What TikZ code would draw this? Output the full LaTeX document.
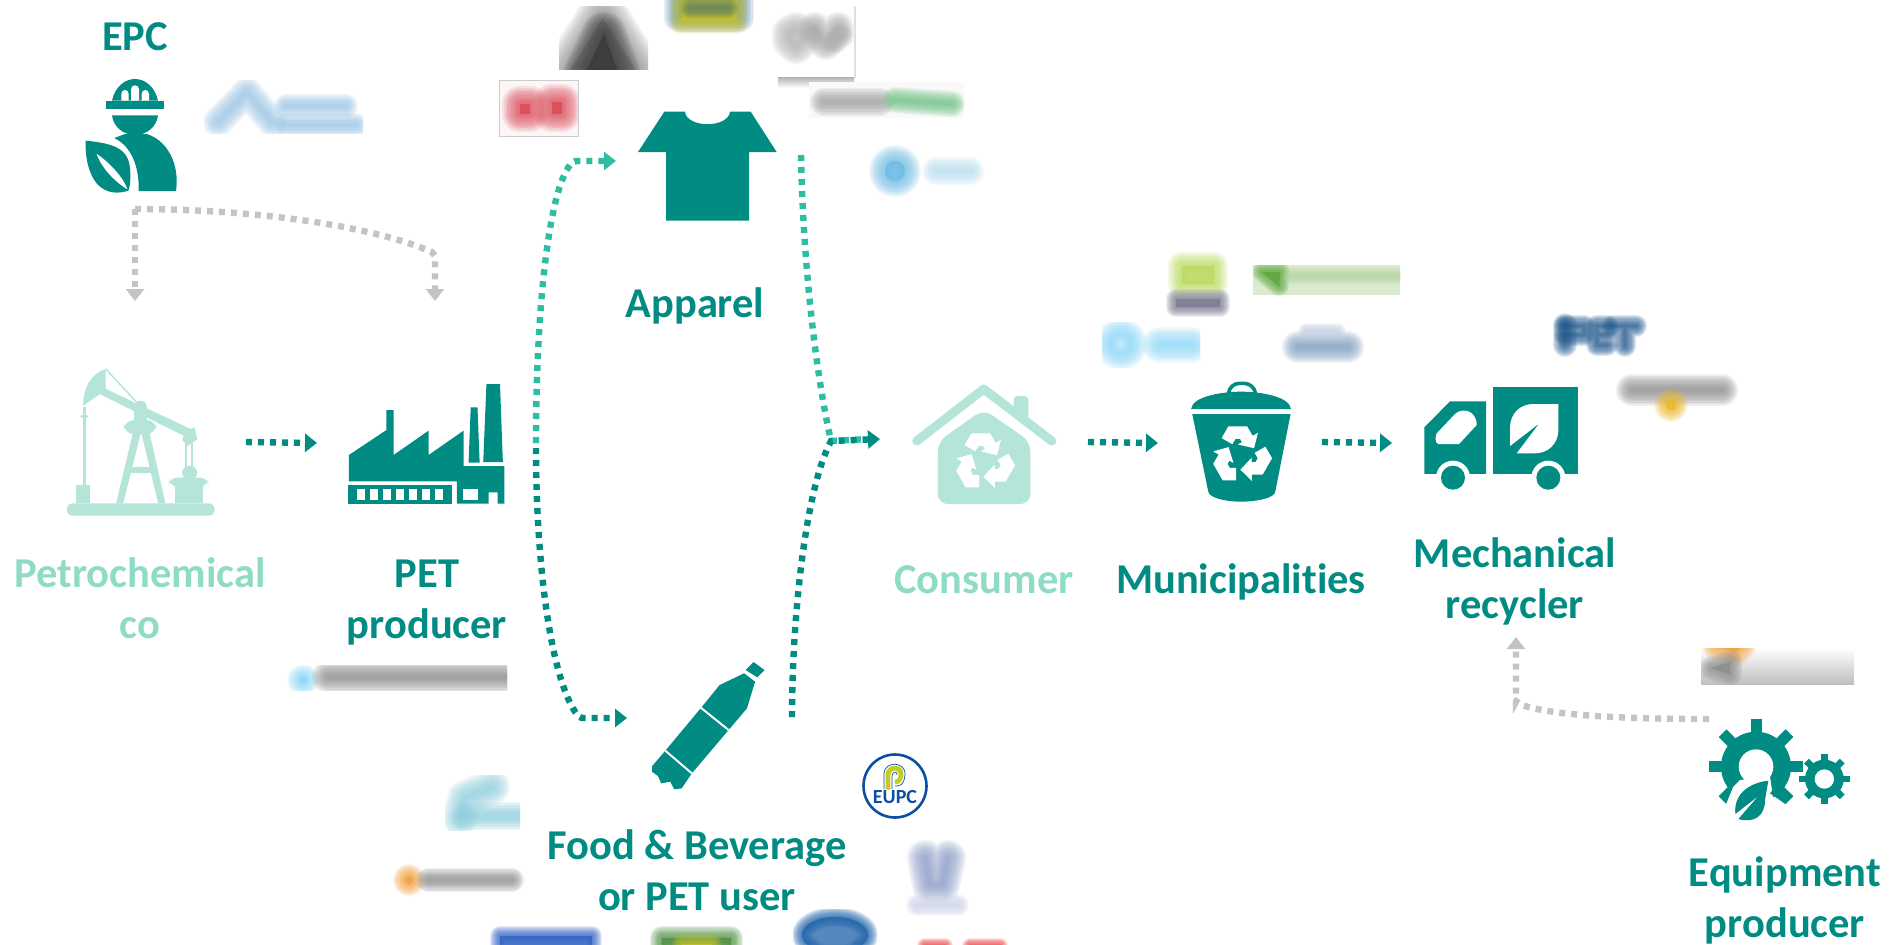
\documentclass[tikz,border=0pt]{standalone}
\usepackage{fontspec}
\setmainfont{Carlito}[Ligatures=NoCommon]
\usetikzlibrary{arrows.meta}
\definecolor{tealD}{HTML}{008C82}
\definecolor{tealM}{HTML}{2DBDA0}
\definecolor{mintI}{HTML}{B5E4D9}
\definecolor{mintT}{HTML}{90DBC6}
\definecolor{grayL}{HTML}{C4C4C4}
\definecolor{lgProman}{HTML}{9CC6E6}
\definecolor{lgRed}{HTML}{DC4A55}
\definecolor{lgDark}{HTML}{3A3A3A}
\definecolor{lgMid}{HTML}{8A8A8A}
\definecolor{lgGrey}{HTML}{8E8E8E}
\definecolor{lgSteel}{HTML}{5F8FB8}
\definecolor{lgYel}{HTML}{C6C42C}
\definecolor{lgOlive}{HTML}{5F8060}
\definecolor{lgGreen}{HTML}{6FC184}
\definecolor{lgSky}{HTML}{6FBEE6}
\definecolor{lgSkyP}{HTML}{B5DFF0}
\definecolor{lgCyan}{HTML}{8FD0DE}
\definecolor{lgOrange}{HTML}{F4A23C}
\definecolor{lgEupc}{HTML}{0B4EA2}
\definecolor{lgEupcY}{HTML}{C4CC22}
\definecolor{lgUni}{HTML}{8D9CC8}
\definecolor{lgUniP}{HTML}{CDD3E8}
\definecolor{lgAlpla}{HTML}{2F62C4}
\definecolor{lgLeaf}{HTML}{4F8F40}
\definecolor{lgOval}{HTML}{1F64AC}
\definecolor{lgOvalC}{HTML}{5C8FC0}
\definecolor{lgRedB}{HTML}{EC4040}
\definecolor{lgLime}{HTML}{BCDC60}
\definecolor{lgSlate}{HTML}{7A7A92}
\definecolor{lgRecBg}{HTML}{DCEBD0}
\definecolor{lgRecD}{HTML}{5CA83C}
\definecolor{lgRecM}{HTML}{B6D6A4}
\definecolor{lgAqua}{HTML}{8FDAFA}
\definecolor{lgBlueG}{HTML}{7F9CC2}
\definecolor{lgNavy}{HTML}{1F568E}
\definecolor{lgGold}{HTML}{EDB92C}
\tikzset{
  lab/.style={font=\fontsize{21.25}{25.5}\selectfont\bfseries,align=center,text=tealD,inner sep=0pt},
  labL/.style={lab,text=mintT},
  dotline/.style={line width=3.2pt,dash pattern=on 3pt off 3pt,-{Triangle[length=6pt,width=9pt]}},
  dotbare/.style={line width=3.2pt,dash pattern=on 3pt off 3pt},
  zA/.style={x=0.16667pt,y=-0.16667pt},
  zB/.style={x=0.17857pt,y=-0.16667pt},
  zC/.style={x=0.20408pt,y=-0.16667pt},
  zD/.style={x=0.19133pt,y=-0.16667pt},
}
\newcommand{\softfill}[3]{\foreach \k in {10,...,1}{\pgfmathsetmacro{\wd}{#2*\k/10}\filldraw[#1,opacity=.13,line width=\wd pt,line join=round,line cap=round] #3;}}
\newcommand{\softline}[3]{\foreach \k in {10,...,1}{\pgfmathsetmacro{\wd}{#2*\k/10}\draw[#1,opacity=.14,line width=\wd pt,line join=round,line cap=round] #3;}}
\newcommand{\recycleicon}[2]{\foreach \r in {0,120,240}{\begin{scope}[shift={(#1,#2)},x=15.5pt,y=15.5pt,rotate=\r]
\fill[white] (-.626,.547)--(-.41,.92)--(.2,.92)--(.375,.617)--(.548,.717)--(.42,.22)--(-.10,.34)--(.029,.417)--(-.031,.52)--(-.18,.52)--(-.28,.347)--cycle;
\end{scope}}}
\newcommand{\gearicon}[6]{%
\foreach \a in {0,45,...,315}{\fill[tealD,rotate around={\a:(#1,#2)}] (#1-#6/2,#2) rectangle (#1+#6/2,#2-#3);}
\fill[tealD] (#1,#2) circle[radius=#4];
\fill[white] (#1,#2) circle[radius=#5];}
\begin{document}
\begin{tikzpicture}[x=0.5pt,y=-0.5pt]
\useasboundingbox (0,0) rectangle (1896,944);
\fill[white] (0,0) rectangle (1896,944);

% ---------- blurred logos ----------
\begin{scope}
\clip (204,80) rectangle (363,133);
\softline{lgProman}{15}{(218,122)--(247,92)--(272,122)}
\softline{lgProman}{12}{(286,106)--(346,106)}
\softline{lgProman}{12}{(286,125)--(356,125)}
\end{scope}
\begin{scope}
\clip (499,80) rectangle (578,136);
\fill[lgRed!5!white] (499,80) rectangle (578,136);
\softfill{lgRed}{18}{(520,104)--(530,104)--(530,114)--(520,114)--cycle}
\softfill{lgRed}{18}{(552,102)--(562,102)--(562,114)--(552,114)--cycle}
\end{scope}
\draw[gray!40,line width=.4pt] (499,80) rectangle (578,136);
\begin{scope}
\clip (559,6) rectangle (648,69);
\softfill{lgMid}{26}{(603,18)--(635,69)--(571,69)--cycle}
\softfill{lgDark}{22}{(604,34)--(618,72)--(586,72)--cycle}
\end{scope}
\begin{scope}
\clip (655,0) rectangle (765,40);
\softfill{lgSteel}{14}{(678,0)--(740,0)--(740,18)--(678,18)--cycle}
\softfill{lgYel}{12}{(682,2)--(736,2)--(736,22)--(682,22)--cycle}
\softline{lgOlive}{10}{(690,8)--(728,8)}
\end{scope}
\begin{scope}
\clip (770,6) rectangle (860,90);
\shade[top color=gray!60,bottom color=white] (778,77) rectangle (854,88);
\fill[white] (776,6) rectangle (854,77);
\fill[gray!25] (854,6) rectangle (856,78);
\softline{lgGrey!70}{18}{(790,33)--(796,30)--(804,38)--(796,46)--(790,40)--cycle}
\softline{lgGrey!80}{16}{(815,28)--(826,44)--(838,28)}
\softline{lgGrey!70}{12}{(835,42)--(842,36)}
\end{scope}
\fill[gray!5] (809,82) rectangle (964,118);
\softline{lgGrey!85}{14}{(824,102)--(880,102)}
\softline{lgGreen}{13}{(895,100)--(952,104)}
\softfill{lgSky}{16}{(895,171) circle[radius=10]}
\softline{lgSkyP}{14}{(936,171)--(970,171)}
\begin{scope}
\clip (286,665) rectangle (507,690);
\softfill{lgAqua}{12}{(303,680) circle[radius=4]}
\softline{lgGrey}{16}{(328,677)--(510,677)}
\end{scope}
\begin{scope}
\clip (445,775) rectangle (520,830);
\softline{lgCyan}{18}{(492,787)--(465,798)--(460,818)}
\softline{lgCyan}{14}{(465,816)--(520,816)}
\end{scope}
\softfill{lgOrange}{12}{(409,880) circle[radius=4]}
\softline{lgGrey}{12}{(428,880)--(512,880)}
% EUPC
\node[circle,draw=lgEupc,line width=1.3pt,minimum size=31.5pt,inner sep=0pt] (eupcring) at (895,786) {};
\draw[line width=2.4pt,lgEupcY] (888,789) -- (888,775) .. controls (888,766) and (901,766) .. (901,774) .. controls (901,781) and (897,782) .. (895,782);
\draw[line width=.35pt,lgEupc] (884,789)--(884,773) .. controls (885,761) and (906,761) .. (905,775) .. controls (904,787) and (897,786) .. (895,786);
\draw[line width=.35pt,lgEupc] (892,789)--(892,776) .. controls (892,771) and (898,771) .. (897,775);
\fill[lgGold] (888,788) circle[radius=2];
\node[font=\fontsize{10}{10}\selectfont\bfseries,text=lgEupc,inner sep=0pt] (eupc) at (895,797) {EUPC};
% Unilever
\softline{lgUni}{18}{(925,858)--(930,885)--(942,885)--(948,858)}
\softline{lgUniP}{11}{(917,905)--(958,905)}
% bottom row
\begin{scope}
\clip (490,921) rectangle (602,944);
\softfill{lgAlpla}{10}{(500,936)--(592,936)--(592,950)--(500,950)--cycle}
\end{scope}
\begin{scope}
\clip (645,923) rectangle (748,944);
\softfill{lgLeaf}{12}{(662,938)--(731,938)--(731,950)--(662,950)--cycle}
\softfill{lgYel}{10}{(682,944)--(712,944)--(712,950)--(682,950)--cycle}
\end{scope}
\begin{scope}
\clip (793,909) rectangle (877,944);
\softfill{lgOval}{10}{(835,935) ellipse[x radius=33,y radius=18]}
\softfill{lgOvalC}{8}{(835,938) ellipse[x radius=12,y radius=4]}
\end{scope}
\begin{scope}
\clip (908,936) rectangle (1012,944);
\softline{lgRedB}{8}{(925,946)--(945,946)}
\softline{lgRedB}{8}{(970,946)--(1000,946)}
\end{scope}
% municipalities logos
\softfill{lgLime}{14}{(1182,266)--(1214,266)--(1214,284)--(1182,284)--cycle}
\softfill{lgSlate}{10}{(1176,299)--(1220,299)--(1220,307)--(1176,307)--cycle}
\fill[lgRecBg] (1253,265) rectangle (1400,295);
\begin{scope}
\clip (1253,265) rectangle (1400,295);
\softfill{lgRecD}{10}{(1262,272)--(1280,272)--(1279,286)--cycle}
\softline{lgRecM}{9}{(1292,276)--(1400,276)}
\end{scope}
\begin{scope}
\clip (1102,322) rectangle (1200,367);
\softline{lgAqua}{16}{(1121,344) circle[radius=10]}
\softline{lgAqua}{18}{(1160,345)--(1192,345)}
\end{scope}
\softline{lgBlueG}{16}{(1298,347)--(1348,347)}
\softline{lgBlueG!45}{8}{(1306,331)--(1338,331)}
% PET logo + Deatis + orange
\softline{lgNavy}{12}{(1565,325)--(1565,345)}
\softline{lgNavy}{11}{(1565,326)--(1584,326)--(1584,335)--(1565,335)}
\softline{lgNavy}{11}{(1597,326)--(1597,345)--(1607,345) (1597,326)--(1607,326) (1597,335)--(1607,335)}
\softline{lgNavy}{11}{(1613,326)--(1636,326) (1625,326)--(1625,346)}
\softline{lgGrey}{16}{(1632,390)--(1722,390)}
\softfill{lgGold}{12}{(1671,405) circle[radius=5]}
\shade[top color=white,middle color=orange!55!white,bottom color=gray!50] (1701,648) rectangle (1854,684);
\begin{scope}
\clip (1701,648) rectangle (1854,684);
\softfill{lgOrange}{14}{(1716,646)--(1742,646)--(1736,652)--cycle}
\softfill{lgGrey}{12}{(1712,668)--(1730,662)--(1730,674)--cycle}
\end{scope}

% ---------- icons ----------
% worker
\begin{scope}[zA]
\fill[tealD] (318,302) rectangle (492,326);
\fill[tealD] (336,302) .. controls (345,260) and (375,237) .. (405,237) .. controls (435,237) and (465,260) .. (474,302) -- cycle;
\fill[white] (364,302) -- (364,282) .. controls (364,266) and (386,266) .. (386,282) -- (386,302) -- cycle;
\fill[white] (393,302) -- (393,268) .. controls (393,252) and (417,252) .. (417,268) -- (417,302) -- cycle;
\fill[white] (425,302) -- (425,282) .. controls (425,266) and (447,266) .. (447,282) -- (447,302) -- cycle;
\fill[tealD] (336,346) -- (474,346) .. controls (470,380) and (440,405) .. (405,405) .. controls (370,405) and (340,380) .. (336,346) -- cycle;
\fill[tealD] (343,414) -- (375,402) -- (440,402) .. controls (500,420) and (540,490) .. (528,573) -- (416,573) .. controls (418,500) and (395,440) .. (343,414) -- cycle;
\fill[tealD] (257,422) .. controls (340,430) and (385,445) .. (390,505) .. controls (393,535) and (390,560) .. (385,572) .. controls (360,580) and (320,585) .. (290,550) .. controls (265,520) and (255,470) .. (257,422) -- cycle;
\fill[white] (290,462) .. controls (320,480) and (370,530) .. (382,568) .. controls (345,545) and (305,505) .. (290,462) -- cycle;
\end{scope}
% pump jack
\begin{scope}[shift={(0,340)},zB,mintI]
\fill[rounded corners=3pt] (187,490) rectangle (601,527);
\fill (214,436) rectangle (252,490);
\fill (232,200) rectangle (240,436);
\fill[rounded corners=1pt] (225,225) rectangle (247,233);
\fill (296,87) .. controls (255,100) and (232,145) .. (233,197) -- (280,162) -- (296,145) -- cycle;
\fill (280,150) -- (294,145) -- (385,192) -- (530,265) -- (520,290) -- (410,232) -- (280,162) -- cycle;
\draw[line width=.7pt] (296,87) -- (384,188);
\fill (393,200) circle[radius=18];
\fill (376,205) rectangle (412,250);
\fill[rounded corners=5pt] (347,240) rectangle (438,282);
\fill (373,275) -- (395,275) -- (345,490) -- (325,490) -- cycle;
\fill (395,275) -- (418,275) -- (463,490) -- (443,490) -- cycle;
\fill (365,382) rectangle (425,398);
\fill (520,270) -- (545,262) -- (552,298) -- (525,318) -- (510,300) -- cycle;
\fill (518,310) rectangle (523,380);
\fill (534,310) rectangle (539,380);
\fill (531,398) circle[radius=21];
\fill[rounded corners=4pt] (473,413) rectangle (583,439);
\fill (490,430) rectangle (567,490);
\end{scope}
% factory
\begin{scope}[shift={(0,340)},zB,tealD]
\fill (977,345) -- (1082,270) -- (1082,210) -- (1102,210) -- (1102,345) -- (1200,272) -- (1200,345) -- (1298,272) -- (1298,378) -- (1412,378) -- (1412,491) -- (1393,491) -- (1393,457) -- (1368,457) -- (1368,491) -- (1279,491) -- (1279,424) -- (977,424) -- cycle;
\fill (975,434) rectangle (1265,491);
\fill[white] (1296,447) rectangle (1338,480);
\foreach \a in {1000,1036,1072,1108,1145,1181,1218}{\fill[white] (\a,447) rectangle (\a+22,480);}
\fill (1318,202) -- (1337,202) -- (1343,368) -- (1312,368) -- cycle;
\fill (1362,132) -- (1400,132) -- (1408,366) -- (1353,366) -- cycle;
\end{scope}
% t-shirt
\begin{scope}[shift={(480,0)},zA]
\fill[tealD] (553,335) -- (615,335) .. controls (620,385) and (745,385) .. (750,335) -- (812,335) -- (890,456) -- (807,456) -- (807,662) -- (558,662) -- (558,456) -- (474,456) -- cycle;
\end{scope}
% bottle
\begin{scope}[shift={(400,640)},zC]
\fill[tealD,line join=round] (866,66) -- (893,90) -- (875,112) -- (847,90) -- cycle;
\fill[tealD] (843,100) -- (783,135) -- (740,200) -- (650,332) -- (618,378) -- (617,395) -- (632,408) -- (640,430) -- (662,425) -- (672,448) -- (690,445) -- (715,400) -- (805,270) -- (850,205) -- (870,125) -- cycle;
\draw[white,line width=1pt] (737,203) -- (805,270);
\draw[white,line width=1pt] (650,332) -- (715,400);
\draw[white,line width=.7pt] (847,97) -- (872,120);
\end{scope}
% house
\begin{scope}[shift={(800,240)},zD,mintI]
\fill[rounded corners=2pt] (558,505) -- (558,468) -- (597,468) -- (597,545) -- cycle;
\draw[line width=4.5pt,line cap=round,line join=round] (305,603) -- (480,447) -- (658,603);
\fill[rounded corners=5pt] (360,605) -- (480,508) -- (602,605) -- (602,792) -- (360,792) -- cycle;
\end{scope}
\recycleicon{984}{462}
% trash
\begin{scope}[shift={(800,240)},zD,tealD]
\draw[line width=1.8pt,rounded corners=5pt] (1120,458) -- (1122,430) -- (1187,430) -- (1190,458);
\fill (1022,507) .. controls (1025,470) and (1100,455) .. (1153,455) .. controls (1205,455) and (1280,470) .. (1283,507) -- cycle;
\fill (1025,522) -- (1282,522) -- (1242,755) .. controls (1240,775) and (1190,785) .. (1153,785) .. controls (1115,785) and (1070,775) .. (1067,755) -- cycle;
\end{scope}
\recycleicon{1241}{455}
% truck
\begin{scope}[shift={(1380,300)},zA,tealD]
\fill (133,382) -- (210,304) -- (318,304) -- (318,522) -- (133,522) -- cycle;
\fill (338,261) rectangle (594,522);
\fill[white] (170,400) -- (225,342) .. controls (245,322) and (290,330) .. (290,375) -- (237,432) -- (175,432) .. controls (165,430) and (165,410) .. (170,400) -- cycle;
\fill[white] (219,533) circle[radius=51];
\fill[white] (505,533) circle[radius=51];
\fill[white] (130,522) rectangle (330,580);
\fill[white] (440,522) rectangle (600,580);
\fill (219,533) circle[radius=36];
\fill (505,533) circle[radius=36];
\fill[white] (390,380) .. controls (392,340) and (420,312) .. (460,312) -- (535,312) -- (535,390) .. controls (535,430) and (505,460) .. (465,460) -- (410,460) -- (478,370) -- (390,438) -- cycle;
\end{scope}
% gears
\begin{scope}[shift={(1440,620)},zA,tealD]
\gearicon{948}{440}{142}{105}{52}{33}
\gearicon{1153}{477}{76}{58}{29}{20}
\fill[white] (855,560) -- (880,500) -- (900,480) -- (990,470) -- (1000,540) -- (975,605) -- (880,610) -- cycle;
\fill[tealD] (1015,490) -- (1058,528) -- (1036,552) -- (990,520) -- cycle;
\fill (985,482) .. controls (930,488) and (880,520) .. (886,582) -- (955,528) -- (895,597) .. controls (940,610) and (975,590) .. (975,540) -- cycle;
\end{scope}

% ---------- anchors for the connectors ----------
\coordinate (epcHub) at (135,209);
\coordinate (epcA) at (135,301);
\coordinate (epcBk) at (432,252);
\coordinate (epcB) at (435,301);
\coordinate (petroOut) at (246,442);
\coordinate (petIn) at (317,443);
\coordinate (petOutUp) at (536,443);
\coordinate (petOutDn) at (536,448);
\coordinate (appIn) at (616,161);
\coordinate (bevIn) at (627,718);
\coordinate (appOut) at (801,155);
\coordinate (bevOut) at (792,717);
\coordinate (joinPt) at (831,441);
\coordinate (joinA) at (868,439);
\coordinate (consIn) at (880,439);
\coordinate (consOut) at (1088,442);
\coordinate (munIn) at (1158,443);
\coordinate (munOut) at (1322,442);
\coordinate (mechIn) at (1392,443);
\coordinate (equipOut) at (1709,719);
\coordinate (mechUpK) at (1516,702);
\coordinate (mechUp) at (1516,637);

% ---------- connectors ----------
\draw[dotline,grayL] (epcHub) -- (epcA);
\draw[dotline,grayL] (epcHub) .. controls (250,209) and (370,225) .. (epcBk) .. controls (435,254) and (435,256) .. (435,262) -- (epcB);
\draw[dotline,tealD] (petroOut) -- (petIn);
\draw[dotline,tealM] (petOutUp) .. controls (536,300) and (550,190) .. (570,165) .. controls (573,161) and (576,161) .. (580,161) -- (appIn);
\draw[dotline,tealD] (petOutDn) .. controls (536,560) and (550,680) .. (578,716) .. controls (580,718) and (582,718) .. (586,718) -- (bevIn);
\draw[dotbare,tealM] (appOut) .. controls (803,260) and (815,370) .. (joinPt) -- (joinA);
\draw[dotline,tealD] (bevOut) .. controls (792,620) and (805,490) .. (joinPt) -- (consIn);
\draw[dotline,tealD] (consOut) -- (munIn);
\draw[dotline,tealD] (munOut) -- (mechIn);
\draw[dotline,grayL] (equipOut) .. controls (1620,719) and (1550,715) .. (1522,705) .. controls (1518,703) and (1516,700) .. (mechUpK) -- (mechUp);

% ---------- labels ----------
\node[lab,anchor=base] (epcT) at (135,50) {EPC};
\node[labL,anchor=base] (petroT) at (140,638) {Petrochemical\\co};
\node[lab,anchor=base] (petT) at (427,638) {PET\\producer};
\node[lab,anchor=base] (appT) at (695,317) {Apparel};
\node[lab,anchor=base] (bevT) at (697,910) {Food \& Beverage\\or PET user};
\node[labL,anchor=base] (consT) at (984,593) {Consumer};
\node[lab,anchor=base] (munT) at (1241,593) {Municipalities};
\node[lab,anchor=base] (mechT) at (1515,618) {Mechanical\\recycler};
\node[lab,anchor=base] (equipT) at (1785,937) {Equipment\\producer};
\end{tikzpicture}
\end{document}
